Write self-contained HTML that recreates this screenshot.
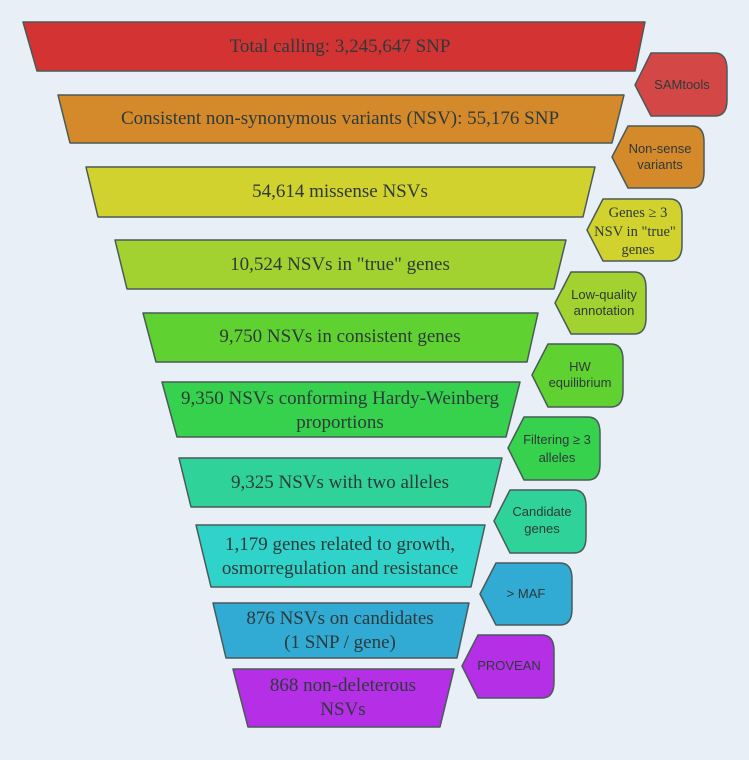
<!DOCTYPE html>
<html><head><meta charset="utf-8"><style>
html,body{margin:0;padding:0;background:#e8eff6;}
svg{display:block;}
.t{font-family:"Liberation Serif",serif;font-size:19px;fill:#2e3a3a;text-anchor:middle;}
.s{font-family:"Liberation Sans",sans-serif;font-size:13px;fill:#2e3a3a;text-anchor:middle;}
.g{font-family:"Liberation Serif",serif;font-size:14.5px;fill:#2e3a3a;text-anchor:middle;}
path,polygon{stroke:#4a5a58;stroke-width:1.5;stroke-linejoin:round;}
</style></head><body>
<svg width="749" height="760" viewBox="0 0 749 760" xmlns="http://www.w3.org/2000/svg">
<rect width="749" height="760" fill="#e8eff6" style="stroke:none"/>
<polygon points="23,22 645,22 635,71 37,71" fill="#d33333"/>
<text class="t" x="340" y="52">Total calling: 3,245,647 SNP</text>
<polygon points="58,95 624,95 612,143 70,143" fill="#d4892b"/>
<text class="t" x="340" y="124">Consistent non-synonymous variants (NSV): 55,176 SNP</text>
<polygon points="86,167 595,167 583,217 98,217" fill="#d1d22e"/>
<text class="t" x="340" y="197">54,614 missense NSVs</text>
<polygon points="115,240 566,240 554,289 127,289" fill="#a2d22f"/>
<text class="t" x="340" y="270">10,524 NSVs in "true" genes</text>
<polygon points="143,313 538,313 527,362 156,362" fill="#5fd232"/>
<text class="t" x="340" y="342">9,750 NSVs in consistent genes</text>
<polygon points="162,382 520,382 506,437 177,437" fill="#37d24d"/>
<text class="t" x="340" y="404">9,350 NSVs conforming Hardy-Weinberg</text>
<text class="t" x="340" y="428">proportions</text>
<polygon points="179,458 502,458 490,507 191,507" fill="#2fd39a"/>
<text class="t" x="340" y="488">9,325 NSVs with two alleles</text>
<polygon points="196,525 485,525 471,587 211,587" fill="#2fd3c9"/>
<text class="t" x="340" y="550">1,179 genes related to growth,</text>
<text class="t" x="340" y="574">osmorregulation and resistance</text>
<polygon points="213,603 469,603 457,658 226,658" fill="#31aad4"/>
<text class="t" x="340" y="624">876 NSVs on candidates</text>
<text class="t" x="340" y="648">(1 SNP / gene)</text>
<polygon points="233,669 454,669 440,727 248,727" fill="#b42fe6"/>
<text class="t" x="343" y="691">868 non-deleterous</text>
<text class="t" x="343" y="715">NSVs</text>

<path d="M635,85 L651,53 L715,53 Q727,53 727,70 L727,100 Q727,116 715,116 L651,116 Z" fill="#d44747"/>
<text class="s" x="682" y="89">SAMtools</text>
<path d="M612,157 L628,126 L692,126 Q704,126 704,142 L704,172 Q704,188 692,188 L628,188 Z" fill="#d4892b"/>
<text class="s" x="660" y="153">Non-sense</text><text class="s" x="660" y="169">variants</text>
<path d="M587,230 L603,199 L670,199 Q682,199 682,215 L682,245 Q682,261 670,261 L603,261 Z" fill="#d1d22e"/>
<text class="g" x="638" y="217">Genes ≥ 3</text><text class="g" x="635" y="236">NSV in "true"</text><text class="g" x="638" y="254">genes</text>
<path d="M555,303 L571,272 L634,272 Q646,272 646,288 L646,318 Q646,334 634,334 L571,334 Z" fill="#a2d22f"/>
<text class="s" x="604" y="299">Low-quality</text><text class="s" x="604" y="315">annotation</text>
<path d="M532,375 L548,344 L611,344 Q623,344 623,360 L623,391 Q623,407 611,407 L548,407 Z" fill="#5fd232"/>
<text class="s" x="580" y="371">HW</text><text class="s" x="580" y="387">equilibrium</text>
<path d="M508,448 L524,417 L588,417 Q600,417 600,433 L600,464 Q600,480 588,480 L524,480 Z" fill="#37d24d"/>
<text class="s" x="557" y="444">Filtering ≥ 3</text><text class="s" x="557" y="462">alleles</text>
<path d="M494,521 L510,490 L574,490 Q586,490 586,506 L586,537 Q586,553 574,553 L510,553 Z" fill="#2fd39a"/>
<text class="s" x="542" y="516">Candidate</text><text class="s" x="542" y="533">genes</text>
<path d="M480,594 L496,563 L560,563 Q572,563 572,579 L572,609 Q572,625 560,625 L496,625 Z" fill="#31aad4"/>
<text class="s" x="526" y="598">&gt; MAF</text>
<path d="M462,666 L478,635 L542,635 Q554,635 554,651 L554,682 Q554,698 542,698 L478,698 Z" fill="#b42fe6"/>
<text class="s" x="509" y="670">PROVEAN</text>
</svg>
</body></html>
